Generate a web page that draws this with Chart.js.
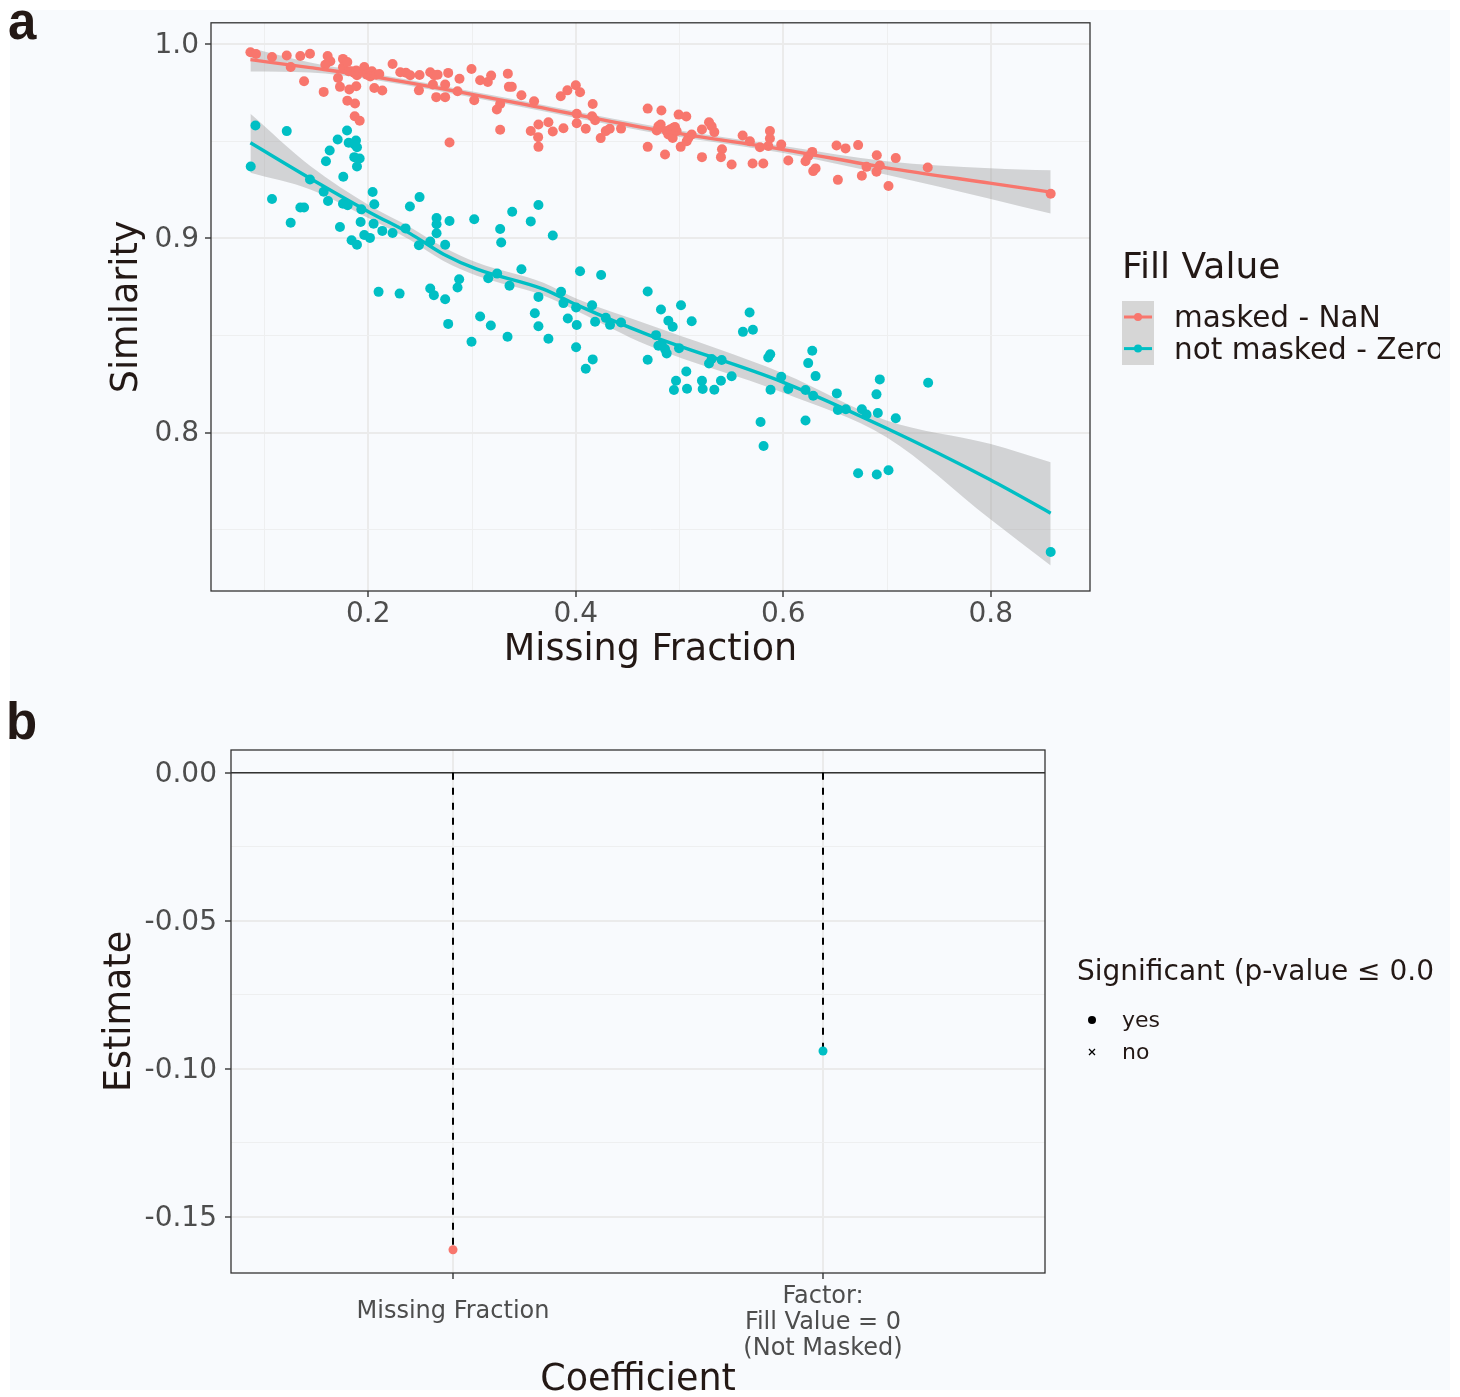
<!DOCTYPE html>
<html><head><meta charset="utf-8">
<script src="https://cdn.jsdelivr.net/npm/chart.js@4.4.1/dist/chart.umd.min.js"></script>
<style>
html,body{margin:0;padding:0;background:#ffffff;}
body{width:1460px;height:1397px;position:relative;overflow:hidden;}
#bg{position:absolute;left:10px;top:10px;width:1440px;height:1380px;background:#f8fafd;}
#wa{position:absolute;left:0;top:0;width:1460px;height:690px;}
#wb{position:absolute;left:0;top:690px;width:1460px;height:707px;}
canvas{display:block;}
</style></head><body>
<div id="bg"></div>
<div id="wa"><canvas id="ca" width="1460" height="690"></canvas></div>
<div id="wb"><canvas id="cb" width="1460" height="707"></canvas></div>
<script>
// ---------------- Panel a data ----------------
const fillLabels = ['masked - NaN', 'not masked - Zero'];

const maskedX = [0.0864,0.0918,0.1072,0.1214,0.1345,0.1438,0.1608,0.1634,0.1586,0.1252,0.1381,0.1570,0.1708,0.1727,0.1756,0.1756,0.1798,0.1811,0.1817,0.1839,0.1865,0.1884,0.1891,0.1907,0.1884,0.1798,0.1872,0.1869,0.1917,0.1961,0.1987,0.2035,0.2019,0.2058,0.2077,0.2106,0.2135,0.2234,0.2308,0.2363,0.2404,0.2494,0.2488,0.2597,0.2636,0.2668,0.2623,0.2655,0.2741,0.2770,0.2741,0.2879,0.2860,0.2995,0.3078,0.3152,0.3184,0.3021,0.3239,0.3271,0.3271,0.3345,0.3355,0.3383,0.3476,0.3598,0.3566,0.3640,0.3637,0.3640,0.3736,0.3778,0.3855,0.3881,0.3919,0.4000,0.4041,0.4009,0.4009,0.4096,0.4163,0.4157,0.4186,0.4240,0.4289,0.4327,0.4436,0.4693,0.4693,0.2783,
0.4825,0.4860,0.4796,0.4818,0.4780,0.4876,0.4892,0.4908,0.4940,0.4956,0.4934,0.4972,0.4991,0.5065,0.5011,0.5069,0.5085,0.5117,0.5216,0.5216,0.5284,0.5309,0.5335,0.5409,0.5399,0.5502,0.5608,0.5678,0.5775,0.5704,0.5807,0.5871,0.5871,0.5855,0.5980,0.6048,0.6214,0.6240,0.6279,0.6288,0.6311,0.6513,0.6600,0.6721,0.6526,0.6802,0.6757,0.6901,0.6930,0.6898,0.7084,0.7014,0.7392,0.8577];
const maskedY = [0.9959,0.9950,0.9935,0.9943,0.9940,0.9952,0.9940,0.9913,0.9895,0.9883,0.9810,0.9755,0.9827,0.9781,0.9925,0.9882,0.9909,0.9861,0.9767,0.9861,0.9853,0.9865,0.9841,0.9856,0.9784,0.9710,0.9695,0.9630,0.9606,0.9883,0.9844,0.9861,0.9835,0.9775,0.9844,0.9847,0.9762,0.9899,0.9856,0.9854,0.9841,0.9842,0.9763,0.9856,0.9841,0.9844,0.9793,0.9728,0.9728,0.9853,0.9793,0.9823,0.9758,0.9873,0.9815,0.9806,0.9839,0.9712,0.9664,0.9693,0.9560,0.9849,0.9781,0.9781,0.9738,0.9707,0.9554,0.9587,0.9522,0.9472,0.9599,0.9551,0.9733,0.9568,0.9763,0.9789,0.9753,0.9642,0.9594,0.9565,0.9693,0.9630,0.9609,0.9517,0.9553,0.9565,0.9566,0.9669,0.9472,0.9494,
0.9659,0.9433,0.9578,0.9587,0.9556,0.9553,0.9536,0.9561,0.9570,0.9574,0.9518,0.9553,0.9638,0.9628,0.9472,0.9501,0.9518,0.9536,0.9561,0.9419,0.9599,0.9578,0.9548,0.9460,0.9419,0.9381,0.9530,0.9501,0.9470,0.9386,0.9386,0.9553,0.9515,0.9476,0.9484,0.9402,0.9398,0.9424,0.9446,0.9347,0.9361,0.9479,0.9464,0.9481,0.9302,0.9369,0.9323,0.9429,0.9376,0.9344,0.9414,0.9270,0.9366,0.9230];

const zeroX = [0.0912,0.1214,0.1795,0.1705,0.1811,0.1881,0.1868,0.1891,0.1628,0.1592,0.1865,0.1917,0.1891,0.0867,
0.1759,0.1438,0.1570,0.1612,0.1072,0.1345,0.1381,0.1252,0.1756,0.1801,0.1727,0.1933,0.2042,0.2058,0.1926,0.2051,0.1839,0.1891,0.1961,0.2016,0.2135,0.2234,0.2359,0.2401,0.2494,0.2488,0.2597,0.2658,0.2658,0.2658,0.2741,0.2783,0.3021,0.2099,0.2302,0.2597,0.2632,0.2741,0.2860,0.2876,0.2770,0.2995,0.3078,0.3181,0.3342,0.3156,0.3242,0.3361,0.3476,0.3271,0.3281,0.3387,0.3566,0.3640,0.3778,0.3640,0.3605,0.3640,0.3736,0.3858,0.3881,0.3923,0.4003,0.4009,0.4003,0.4041,0.4096,0.4163,0.4157,0.4186,0.4244,0.4289,0.4330,0.4436,0.4693,0.4693,
0.4821,0.5014,0.4892,0.4934,0.5117,0.4773,0.4796,0.4828,0.4860,0.4876,0.4995,0.5065,0.4966,0.4946,0.5072,0.5216,0.5223,0.5335,0.5284,0.5309,0.5406,0.5399,0.5502,0.5611,0.5675,0.5707,0.5855,0.5874,0.5877,0.5980,0.6048,0.5781,0.5810,0.6214,0.6214,0.6240,0.6279,0.6311,0.6288,0.6516,0.6526,0.6603,0.6757,0.6802,0.6911,0.6898,0.6930,0.7084,0.6721,0.6901,0.7014,0.7396,0.8577];
const zeroY = [0.9582,0.9553,0.9556,0.9510,0.9493,0.9505,0.9484,0.9470,0.9453,0.9398,0.9419,0.9412,0.9371,0.9371,
0.9318,0.9304,0.9241,0.9193,0.9203,0.9160,0.9160,0.9081,0.9179,0.9171,0.9059,0.9150,0.9239,0.9176,0.9085,0.9076,0.8991,0.8968,0.9018,0.9003,0.9039,0.9028,0.9052,0.9165,0.9213,0.8965,0.8984,0.9105,0.9073,0.9027,0.8968,0.9090,0.9099,0.8725,0.8716,0.8742,0.8708,0.8687,0.8747,0.8790,0.8560,0.8468,0.8598,0.8552,0.8494,0.8795,0.8819,0.8756,0.8841,0.9049,0.8979,0.9138,0.9088,0.9172,0.9015,0.8699,0.8615,0.8548,0.8483,0.8725,0.8667,0.8588,0.8644,0.8554,0.8440,0.8831,0.8329,0.8377,0.8656,0.8571,0.8812,0.8591,0.8555,0.8567,0.8727,0.8375,
0.8634,0.8656,0.8576,0.8545,0.8574,0.8502,0.8447,0.8456,0.8430,0.8408,0.8435,0.8315,0.8267,0.8219,0.8226,0.8267,0.8225,0.8221,0.8356,0.8379,0.8374,0.8267,0.8290,0.8519,0.8619,0.8530,0.8387,0.8404,0.8221,0.8288,0.8225,0.8055,0.7931,0.8219,0.8062,0.8358,0.8422,0.8291,0.8190,0.8202,0.8117,0.8120,0.8120,0.8093,0.8101,0.8197,0.8274,0.8074,0.7791,0.7784,0.7806,0.8257,0.7385];

// smooth fits (loess) and their confidence bands
const maskedFitX  = [0.0864,0.1441,0.2019,0.3367,0.4693,0.6000,0.6995,0.7990,0.8577];
const maskedFit   = [0.9921,0.9880,0.9836,0.9705,0.9567,0.9458,0.9364,0.9285,0.9239];
const maskedUpper = [0.9981,0.9906,0.9852,0.9721,0.9584,0.9476,0.9398,0.9362,0.9351];
const maskedLower = [0.9860,0.9855,0.9820,0.9689,0.9550,0.9440,0.9328,0.9205,0.9128];

const zeroFitX  = [0.0864,0.1441,0.2019,0.2404,0.2725,0.3047,0.3688,0.4009,0.4693,0.6000,0.6995,0.7990,0.8577];
const zeroFit   = [0.9493,0.9309,0.9133,0.9025,0.8919,0.8842,0.8739,0.8658,0.8505,0.8259,0.8022,0.7758,0.7585];
const zeroUpper = [0.9642,0.9373,0.9167,0.9058,0.8955,0.8876,0.8772,0.8689,0.8558,0.8305,0.8062,0.7942,0.7847];
const zeroLower = [0.9338,0.9252,0.9100,0.8992,0.8884,0.8808,0.8706,0.8627,0.8450,0.8205,0.7976,0.7556,0.7316];

const xTicksA = [0.1,0.2,0.3,0.4,0.5,0.6,0.7,0.8];
const xMajorA = [0.2,0.4,0.6,0.8];
const yTicksA = [0.75,0.8,0.85,0.9,0.95,1.0];
const yMajorA = [0.8,0.9,1.0];

// ---------------- Panel b data ----------------
const coefLabels = [['Missing Fraction'], ['Factor:', 'Fill Value = 0', '(Not Masked)']];
const coefPos = [1, 2];
const estimates = [-0.1611, -0.0940];
const significant = ['yes', 'yes'];
const sigLabels = ['yes', 'no'];
const zeroLine = 0;
const yTicksB = [-0.15,-0.125,-0.1,-0.075,-0.05,-0.025,0];
const yMajorB = [-0.15,-0.1,-0.05,0];

// ---------------- styles ----------------
const FONT = "'DejaVu Sans', sans-serif";
const RED = '#F8766D', TEAL = '#00BFC4';
const seriesColors = [RED, TEAL];
const RIBBON = 'rgba(153,153,153,0.4)';
const TXT = '#231815', TICKTXT = '#4d4d4d', GRID = '#ebebeb', GRIDMINOR = '#eeeff0', AXC = '#333333';
Chart.defaults.font.family = FONT;

const isIn = (v, arr) => arr.some(a => Math.abs(a - v) < 1e-9);
const toXY = (xs, ys) => xs.map((x, i) => ({x: x, y: ys[i]}));

const borderPlugin = {
  id: 'panelBorder',
  afterDatasetsDraw(chart) {
    const {ctx, chartArea: a} = chart;
    ctx.save();
    ctx.strokeStyle = AXC; ctx.lineWidth = 1.3;
    ctx.strokeRect(a.left, a.top, a.right - a.left, a.bottom - a.top);
    ctx.restore();
  }
};

function gridOpts(major) {
  return {
    color: c => isIn(c.tick.value, major) ? GRID : GRIDMINOR,
    lineWidth: c => isIn(c.tick.value, major) ? 2 : 1,
    tickColor: c => isIn(c.tick.value, major) ? AXC : 'rgba(0,0,0,0)',
    tickWidth: 1.4,
    tickLength: 6,
    drawTicks: true
  };
}

// ---------------- Chart a ----------------
const legendA = {
  id: 'legendA',
  afterDraw(chart) {
    const ctx = chart.ctx;
    ctx.save();
    ctx.fillStyle = TXT;
    ctx.font = `bold 51px 'Liberation Sans', Arial, sans-serif`;
    ctx.textBaseline = 'alphabetic'; ctx.textAlign = 'left';
    ctx.fillText('a', 8, 39);
    ctx.beginPath(); ctx.rect(0, 0, 1440, 690); ctx.clip();
    ctx.font = `36px ${FONT}`;
    ctx.fillText('Fill Value', 1122, 278);
    ctx.fillStyle = '#d6d6d6';
    ctx.fillRect(1122, 301, 32, 64);
    fillLabels.forEach((lab, i) => {
      const y = 317 + i * 31.6;
      ctx.strokeStyle = seriesColors[i]; ctx.lineWidth = 3;
      ctx.beginPath(); ctx.moveTo(1124, y); ctx.lineTo(1152, y); ctx.stroke();
      ctx.fillStyle = seriesColors[i];
      ctx.beginPath(); ctx.arc(1138, y, 4, 0, Math.PI * 2); ctx.fill();
      ctx.fillStyle = TXT; ctx.font = `29.5px ${FONT}`;
      ctx.fillText(lab, 1174, y + 10);
    });
    ctx.restore();
  }
};

new Chart(document.getElementById('ca'), {
  type: 'scatter',
  data: {
    datasets: [
      {type: 'line', data: toXY(maskedFitX, maskedUpper), borderColor: 'transparent', borderWidth: 0, pointRadius: 0, fill: false, cubicInterpolationMode: 'monotone', order: 10},
      {type: 'line', data: toXY(maskedFitX, maskedLower), borderColor: 'transparent', borderWidth: 0, pointRadius: 0, fill: '-1', backgroundColor: RIBBON, cubicInterpolationMode: 'monotone', order: 9},
      {type: 'line', data: toXY(zeroFitX, zeroUpper), borderColor: 'transparent', borderWidth: 0, pointRadius: 0, fill: false, cubicInterpolationMode: 'monotone', order: 8},
      {type: 'line', data: toXY(zeroFitX, zeroLower), borderColor: 'transparent', borderWidth: 0, pointRadius: 0, fill: '-1', backgroundColor: RIBBON, cubicInterpolationMode: 'monotone', order: 7},
      {label: fillLabels[0], data: toXY(maskedX, maskedY), pointRadius: 5, pointBackgroundColor: RED, pointBorderWidth: 0, backgroundColor: RED, borderColor: RED, order: 4},
      {label: fillLabels[1], data: toXY(zeroX, zeroY), pointRadius: 5, pointBackgroundColor: TEAL, pointBorderWidth: 0, backgroundColor: TEAL, borderColor: TEAL, order: 3},
      {type: 'line', data: toXY(maskedFitX, maskedFit), borderColor: RED, borderWidth: 3.4, pointRadius: 0, fill: false, cubicInterpolationMode: 'monotone', order: 1},
      {type: 'line', data: toXY(zeroFitX, zeroFit), borderColor: TEAL, borderWidth: 3.4, pointRadius: 0, fill: false, cubicInterpolationMode: 'monotone', order: 1}
    ]
  },
  options: {
    responsive: false, animation: false, devicePixelRatio: 1,
    layout: {padding: {top: 21, right: 370, bottom: 0, left: 0}},
    plugins: {legend: {display: false}, tooltip: {enabled: false}},
    scales: {
      x: {
        type: 'linear', min: 0.0484, max: 0.8956,
        afterBuildTicks: s => { s.ticks = xTicksA.map(v => ({value: v})); },
        afterFit: s => { s.height = 99; },
        grid: gridOpts(xMajorA),
        border: {display: false},
        ticks: {callback: v => isIn(v, xMajorA) ? v.toFixed(1) : '', color: TICKTXT, font: {size: 28, lineHeight: 1}, padding: 4, maxRotation: 0, autoSkip: false},
        title: {display: true, text: 'Missing Fraction', color: TXT, font: {size: 36.5, lineHeight: 1.2}, padding: {top: 0, bottom: 18}}
      },
      y: {
        type: 'linear', min: 0.7184, max: 1.0111,
        afterBuildTicks: s => { s.ticks = yTicksA.map(v => ({value: v})); },
        afterFit: s => { s.width = 211; },
        grid: gridOpts(yMajorA),
        border: {display: false},
        ticks: {callback: v => isIn(v, yMajorA) ? v.toFixed(1) : '', color: TICKTXT, font: {size: 28}, padding: 6, labelOffset: 1, autoSkip: false},
        title: {display: true, text: 'Similarity', color: TXT, font: {size: 36.5, lineHeight: 1.2}, padding: {top: 106, bottom: 0}}
      }
    }
  },
  plugins: [borderPlugin, legendA]
});

// ---------------- Chart b ----------------
const hlinePlugin = {
  id: 'hline',
  beforeDatasetsDraw(chart) {
    const {ctx, chartArea: a, scales: {y}} = chart;
    const py = y.getPixelForValue(zeroLine);
    ctx.save();
    ctx.strokeStyle = AXC; ctx.lineWidth = 1.5;
    ctx.beginPath(); ctx.moveTo(a.left, py); ctx.lineTo(a.right, py); ctx.stroke();
    ctx.restore();
  }
};

const legendB = {
  id: 'legendB',
  afterDraw(chart) {
    const ctx = chart.ctx;
    ctx.save();
    ctx.fillStyle = TXT;
    ctx.font = `bold 51px 'Liberation Sans', Arial, sans-serif`;
    ctx.textBaseline = 'alphabetic'; ctx.textAlign = 'left';
    ctx.fillText('b', 6, 49);
    ctx.beginPath(); ctx.rect(0, 0, 1435, 707); ctx.clip();
    ctx.font = `28px ${FONT}`;
    ctx.fillText('Significant (p-value \u2264 0.05)', 1077, 290);
    // yes: filled dot, no: cross
    ctx.fillStyle = '#000';
    ctx.beginPath(); ctx.arc(1092, 330, 4, 0, Math.PI * 2); ctx.fill();
    ctx.strokeStyle = '#000'; ctx.lineWidth = 1.3;
    ctx.beginPath();
    ctx.moveTo(1089, 359); ctx.lineTo(1095, 365);
    ctx.moveTo(1095, 359); ctx.lineTo(1089, 365);
    ctx.stroke();
    ctx.fillStyle = TXT; ctx.font = `22px ${FONT}`;
    ctx.fillText(sigLabels[0], 1122, 337);
    ctx.fillText(sigLabels[1], 1122, 369);
    ctx.restore();
  }
};

const segDatasets = coefPos.map((p, i) => ({
  type: 'line',
  data: [{x: p, y: zeroLine}, {x: p, y: estimates[i]}],
  borderColor: '#000', borderWidth: 2, borderDash: [7, 8], pointRadius: 0, fill: false, order: 5
}));

new Chart(document.getElementById('cb'), {
  type: 'scatter',
  data: {
    datasets: [
      ...segDatasets,
      {
        data: toXY(coefPos, estimates),
        pointRadius: 4.5,
        pointStyle: significant.map(s => s === 'yes' ? 'circle' : 'crossRot'),
        pointBackgroundColor: seriesColors,
        pointBorderColor: seriesColors,
        pointBorderWidth: 0,
        order: 1
      }
    ]
  },
  options: {
    responsive: false, animation: false, devicePixelRatio: 1,
    layout: {padding: {top: 60, right: 415, bottom: 0, left: 0}},
    plugins: {legend: {display: false}, tooltip: {enabled: false}},
    scales: {
      x: {
        type: 'linear', min: 0.4, max: 2.6,
        afterBuildTicks: s => { s.ticks = coefPos.map(v => ({value: v})); },
        afterFit: s => { s.height = 124; },
        grid: {color: GRID, lineWidth: 2, tickColor: AXC, tickWidth: 1.4, tickLength: 6},
        border: {display: false},
        ticks: {
          callback: (v, i) => coefLabels[i],
          color: TICKTXT,
          font: c => ({family: FONT, size: 24, lineHeight: (coefLabels[c.index] || []).length > 1 ? '26px' : '56px'}),
          padding: 5, maxRotation: 0, autoSkip: false
        },
        title: {display: true, text: 'Coefficient', color: TXT, font: {size: 36.5, lineHeight: 0.9}, padding: {top: 0, bottom: 0}}
      },
      y: {
        type: 'linear', min: -0.16896, max: 0.00768,
        afterBuildTicks: s => { s.ticks = yTicksB.map(v => ({value: v})); },
        afterFit: s => { s.width = 231; },
        grid: gridOpts(yMajorB),
        border: {display: false},
        ticks: {callback: v => isIn(v, yMajorB) ? v.toFixed(2) : '', color: TICKTXT, font: {size: 28}, padding: 8, labelOffset: 2, autoSkip: false},
        title: {display: true, text: 'Estimate', color: TXT, font: {size: 36.5, lineHeight: 1.2}, padding: {top: 99, bottom: 0}}
      }
    }
  },
  plugins: [borderPlugin, hlinePlugin, legendB]
});
</script>
</body></html>
